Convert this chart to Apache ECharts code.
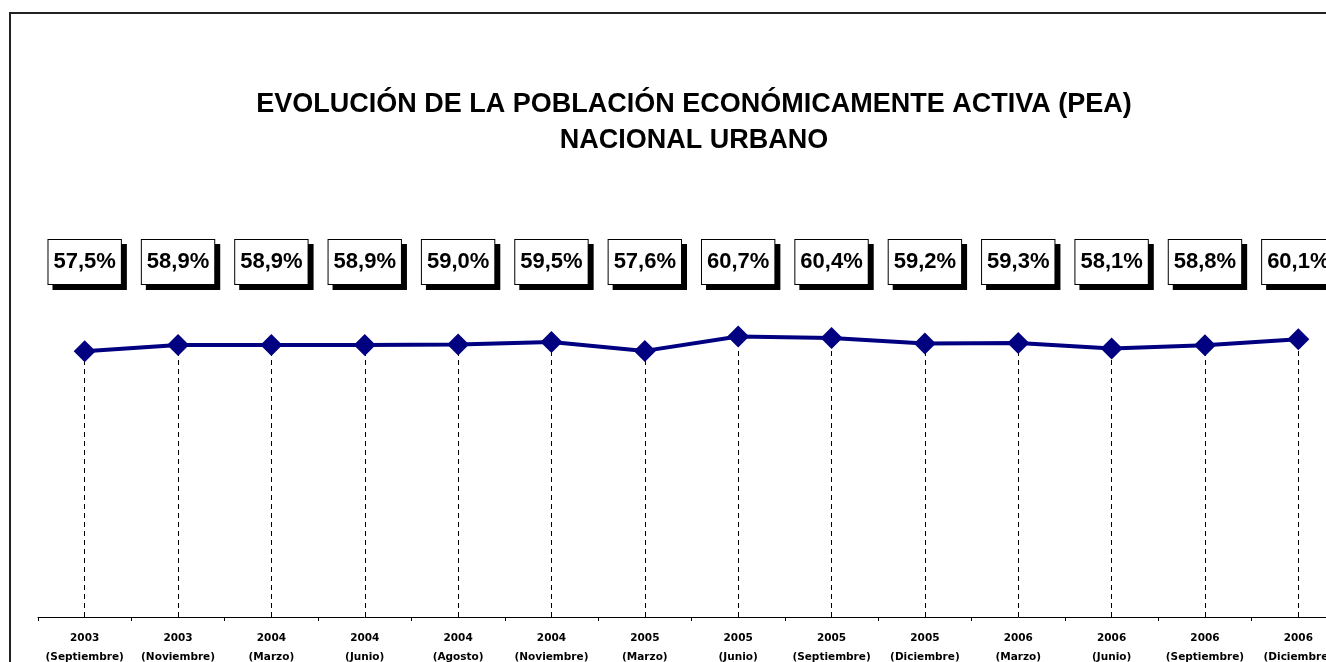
<!DOCTYPE html>
<html>
<head>
<meta charset="utf-8">
<script src="https://cdn.jsdelivr.net/npm/echarts@6/dist/echarts.min.js"></script>
<style>
  html, body { margin: 0; padding: 0; background: #fff; overflow: hidden; }
  #chart { position: absolute; left: 9px; top: 12px; width: 1368px; height: 680px;
           border-left: 2px solid #222; border-top: 2px solid #222; box-sizing: border-box; }
</style>
</head>
<body>
<div id="chart"></div>
<script>
"use strict";

// PEA nacional urbano, tasa de actividad (%)
const YEARS = ["2003", "2003", "2004", "2004", "2004", "2004", "2005",
               "2005", "2005", "2005", "2006", "2006", "2006", "2006"];
const MONTHS = ["Septiembre", "Noviembre", "Marzo", "Junio", "Agosto", "Noviembre", "Marzo",
                "Junio", "Septiembre", "Diciembre", "Marzo", "Junio", "Septiembre", "Diciembre"];
const PEA = [57.5, 58.9, 58.9, 58.9, 59.0, 59.5, 57.6, 60.7, 60.4, 59.2, 59.3, 58.1, 58.8, 60.1];

const NAVY = "#000080";
const pctLabel = v => v.toFixed(1).replace(".", ",") + "%";
const categories = YEARS.map((y, i) => `${y}\n(${MONTHS[i]})`);

// líneas punteadas desde cada punto hasta el eje
const dropLines = PEA.map((v, i) => [{ coord: [i, 0] }, { coord: [i, v] }]);

const chart = echarts.init(document.getElementById("chart"), null, { renderer: "canvas" });
chart.setOption({
  animation: false,
  textStyle: { fontFamily: "Liberation Sans, Arial, sans-serif" },
  title: {
    text: "EVOLUCIÓN DE LA POBLACIÓN ECONÓMICAMENTE ACTIVA (PEA)\nNACIONAL URBANO",
    left: "center", top: 68,
    textStyle: { fontSize: 27, fontWeight: "bold", color: "#000", lineHeight: 36,
                 fontFamily: "Liberation Sans, Arial, sans-serif" }
  },
  grid: { left: 27, right: 32, top: 141, bottom: 75, containLabel: false },
  xAxis: {
    type: "category", data: categories, boundaryGap: true,
    axisLine: { lineStyle: { color: "#000", width: 1 } },
    axisTick: { show: true, length: 4, lineStyle: { color: "#000" } },
    axisLabel: {
      interval: 0, margin: 12, color: "#000", fontSize: 10.5, fontWeight: "bold",
      lineHeight: 19, fontFamily: "DejaVu Sans, sans-serif"
    },
    splitLine: { show: false }
  },
  yAxis: {
    type: "value", min: 0, max: 100, show: false,
    splitLine: { show: false }
  },
  series: [{
    type: "line",
    data: PEA,
    symbol: "diamond",
    symbolSize: 22,
    lineStyle: { color: NAVY, width: 4 },
    itemStyle: { color: NAVY },
    z: 3,
    label: {
      show: true, position: "top",
      formatter: p => pctLabel(p.value),
      color: "#000", fontSize: 22, fontWeight: "bold",
      fontFamily: "Liberation Sans, Arial, sans-serif",
      backgroundColor: "#fff", borderColor: "#000", borderWidth: 1,
      padding: [12, 5, 10, 5],
      shadowColor: "#000", shadowBlur: 0, shadowOffsetX: 5, shadowOffsetY: 5
    },
    labelLayout: p => ({
      x: p.rect.x + p.rect.width / 2, y: 248,
      align: "center", verticalAlign: "middle"
    }),
    markLine: {
      silent: true, symbol: "none",
      label: { show: false },
      lineStyle: { color: "#000", width: 1, type: [5, 4] },
      data: dropLines,
      z: 1
    }
  }]
});
</script>
</body>
</html>
